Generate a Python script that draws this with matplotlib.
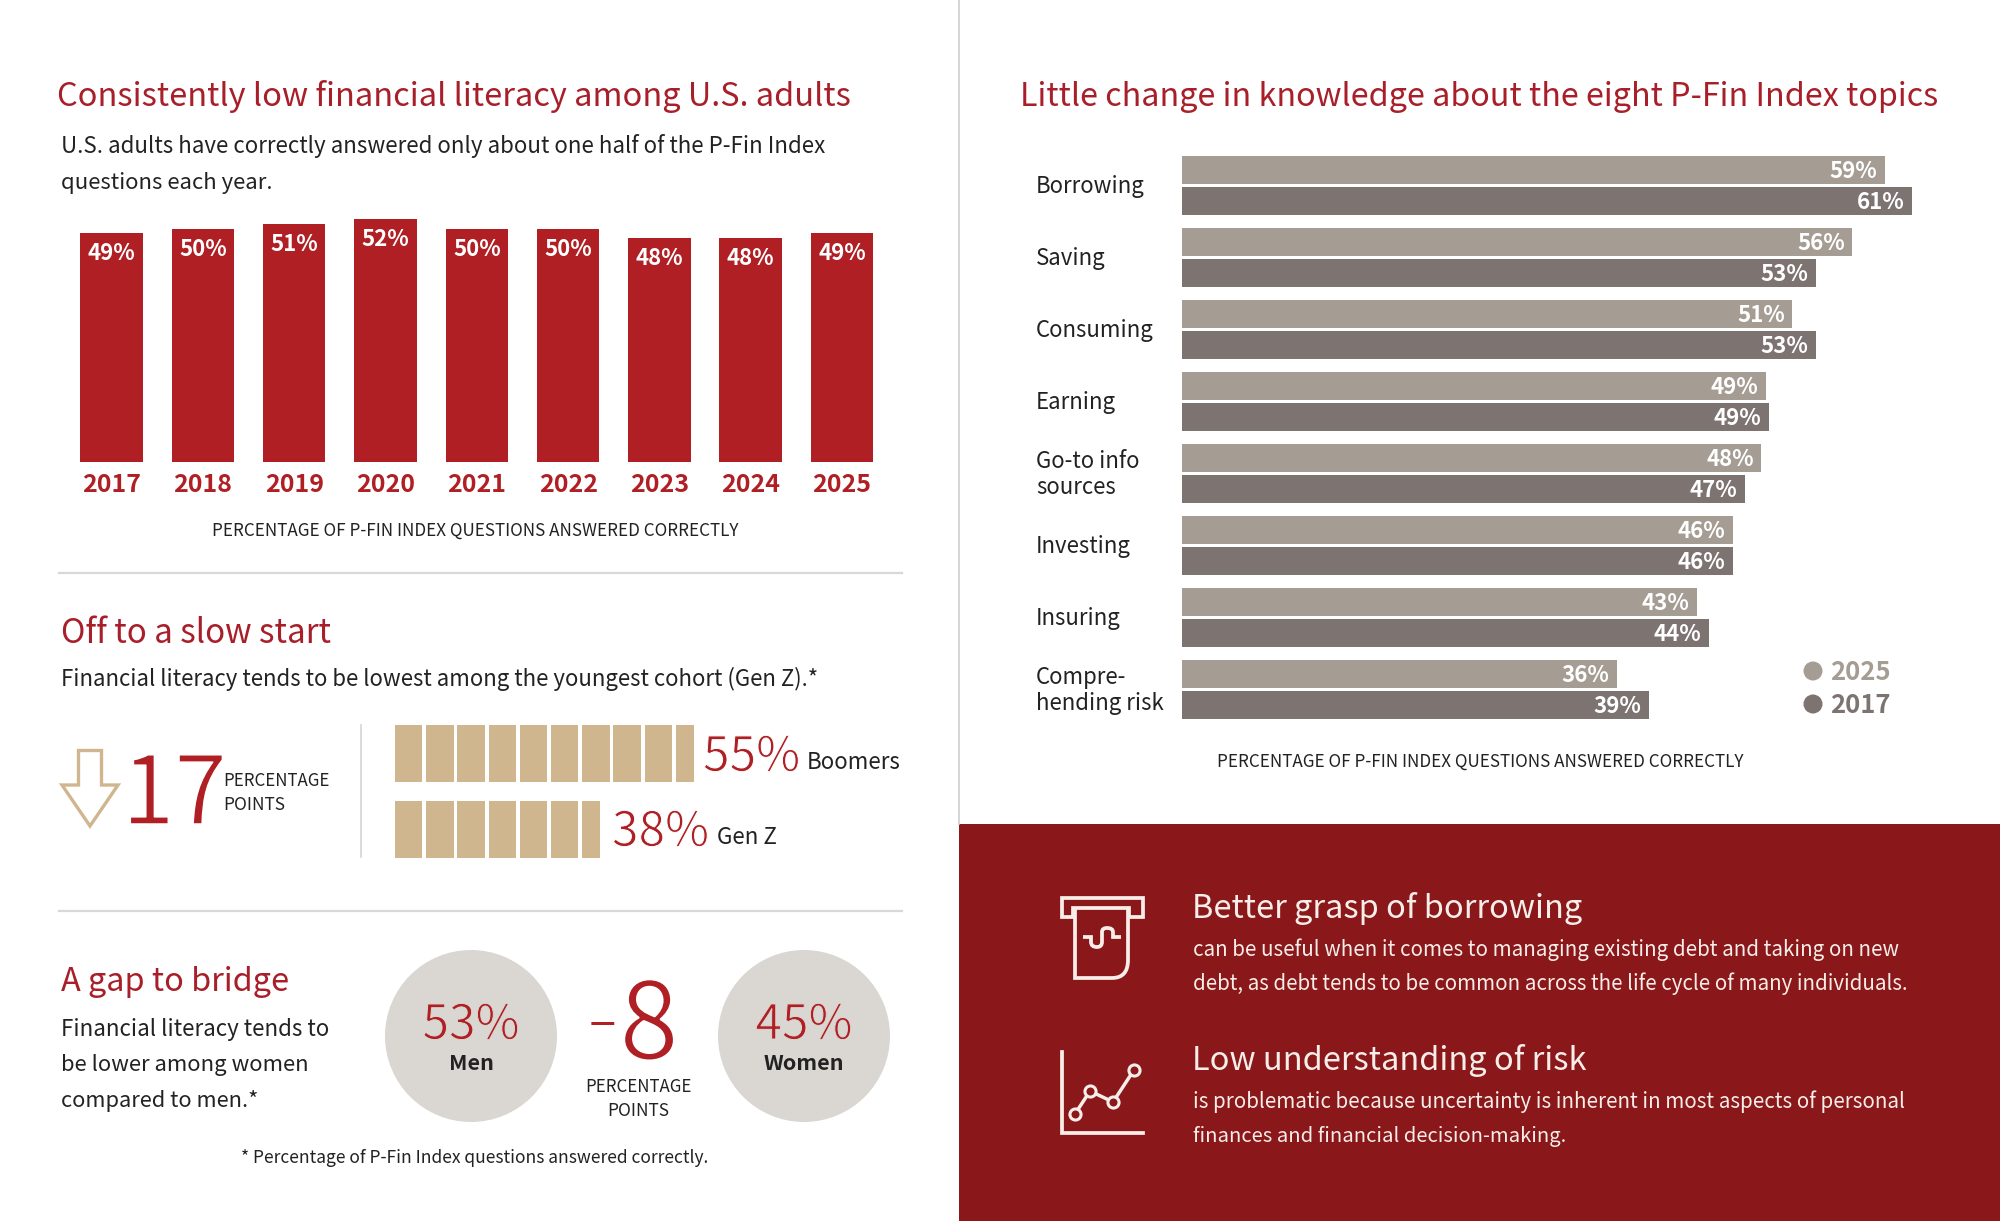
import matplotlib
matplotlib.use('Agg')
import matplotlib.pyplot as plt
import matplotlib.patheffects as pe
from matplotlib.patches import Circle, Polygon, Rectangle, PathPatch
from matplotlib.path import Path
from matplotlib.transforms import blended_transform_factory

W, H = 2000, 1221
plt.rcParams['font.family'] = ['Noto Sans CJK SC', 'DejaVu Sans']

# data
years = ['2017', '2018', '2019', '2020', '2021', '2022', '2023', '2024', '2025']
pct_correct = [49, 50, 51, 52, 50, 50, 48, 48, 49]

topics = ['Borrowing', 'Saving', 'Consuming', 'Earning', 'Go-to info\nsources',
          'Investing', 'Insuring', 'Compre-\nhending risk']
topic_2025 = [58.7, 56, 51, 48.8, 48.4, 46, 43, 36.3]
topic_2017 = [61, 53, 53, 49, 47, 46, 44, 39]

cohorts = ['Boomers', 'Gen Z']
cohort_pct = [55, 38]
cohort_blocks = [9.67, 6.67]

genders = ['Men', 'Women']
gender_pct = [53, 45]

RED = '#AF1F24'
TITLE = '#A81F2A'
DARK = '#8A1719'
TAN = '#D0B68E'
C2025 = '#A59D93'
C2017 = '#7D7472'
CIRCLE = '#DAD7D2'
INK = '#222222'
CREAM = '#F7EEEA'

fig = plt.figure(figsize=(W / 100, H / 100), dpi=100, facecolor='white')
bg = fig.add_axes([0, 0, 1, 1])
bg.set_xlim(0, W)
bg.set_ylim(H, 0)
bg.axis('off')
renderer = fig.canvas.get_renderer()


def px_axes(x0, y0, x1, y1):
    a = fig.add_axes([x0 / W, 1 - y1 / H, (x1 - x0) / W, (y1 - y0) / H])
    a.patch.set_alpha(0)
    for s in a.spines.values():
        s.set_visible(False)
    return a


def txt(x, y, s, size=16, color=INK, width=None, **kw):
    kw.setdefault('va', 'baseline')
    t = bg.text(x, y, s, fontsize=size, color=color, **kw)
    if width:
        # scale the font so the line has the same length as in the picture
        t.set_fontsize(size * width / t.get_window_extent(renderer).width)
    return t


def thin(t, lw, back='white'):
    # no light weight installed, so eat into the glyph edge with the background colour
    t.set_path_effects([pe.Stroke(linewidth=lw, foreground=back)])
    return t


# panel and rules
bg.add_patch(Rectangle((959, 824), W - 959, H - 824, color=DARK, lw=0))
bg.plot([959, 959], [0, 824], color='#CFCFCF', lw=1.2)
bg.plot([59, 902], [573, 573], color='#D8D8D5', lw=1.6)
bg.plot([59, 902], [911, 911], color='#D8D8D5', lw=1.6)
bg.plot([361, 361], [725, 857], color='#D8D8D5', lw=1.3)

# top left: years
txt(57, 106, 'Consistently low financial literacy among U.S. adults', 26, TITLE, width=795)
txt(61, 153, 'U.S. adults have correctly answered only about one half of the P-Fin Index', 17, width=764)
txt(61, 189, 'questions each year.', 17, width=212)

ax1 = px_axes(66, 200, 887.6, 462)
ax1.bar(range(len(years)), pct_correct, width=0.684, color=RED)
ax1.set_xlim(-0.5, len(years) - 0.5)
ax1.set_ylim(0, 262 / 4.67)
ax1.set_yticks([])
ax1.set_xticks(range(len(years)))
ax1.set_xticklabels(years, color=RED, fontweight='bold', fontsize=18)
ax1.tick_params(axis='x', length=0, pad=8)
for i, v in enumerate(pct_correct):
    ax1.annotate(f'{v}%', (i, v), xytext=(0, -6.5), textcoords='offset points', ha='center', va='top',
                 color='white', fontweight='bold', fontsize=16)
txt(475, 536, 'PERCENTAGE OF P-FIN INDEX QUESTIONS ANSWERED CORRECTLY', 12, ha='center', width=525)

# cohorts
txt(61, 643, 'Off to a slow start', 24, TITLE, width=270)
txt(61, 686, 'Financial literacy tends to be lowest among the youngest cohort (Gen Z).*', 17, width=758)

bg.add_patch(Polygon([(78.5, 750.5), (101.5, 750.5), (101.5, 785), (118, 785), (90, 826), (62, 785), (78.5, 785)],
                     closed=True, fill=False, ec=TAN, lw=2.4))
thin(txt(122, 824, '17', 68, RED), 1.1)
txt(223, 786, 'PERCENTAGE', 12.5, width=106)
txt(223, 810, 'POINTS', 12.5, width=62)

# one block per step, the last one cut short
ax2 = px_axes(395, 725, 707, 858)
ax2.set_xlim(0, 10)
ax2.set_ylim(133, 0)
ax2.set_xticks([])
ax2.set_yticks([])
for y, blocks in zip([28.5, 104], cohort_blocks):
    n = int(blocks)
    widths = [0.875] * n + [0.875 * (blocks - n)]
    ax2.barh([y] * (n + 1), widths, left=list(range(n + 1)), height=57, color=TAN)

thin(txt(703, 771, f'{cohort_pct[0]}%', 38, RED, width=97), 0.7)
txt(807, 769, cohorts[0], 17, width=94)
thin(txt(612, 846, f'{cohort_pct[1]}%', 38, RED, width=97), 0.7)
txt(717, 844, cohorts[1], 17, width=60)

# gender gap
txt(61, 991, 'A gap to bridge', 24, TITLE, width=229)
txt(61, 1036, 'Financial literacy tends to', 17, width=268)
txt(61, 1071, 'be lower among women', 17, width=248)
txt(61, 1107, 'compared to men.*', 17, width=198)

for cx, label, v in zip([471, 804], genders, gender_pct):
    bg.add_patch(Circle((cx, 1036), 86, color=CIRCLE, lw=0))
    thin(txt(cx, 1039, f'{v}%', 38, RED, ha='center', width=97), 0.7, CIRCLE)
    txt(cx, 1070, label, 15.5, fontweight='bold', ha='center')
txt(602, 1038, '\u2013', 37, RED, ha='center')
thin(txt(649, 1059, '8', 77, RED, ha='center'), 1.3)
txt(638, 1092, 'PERCENTAGE', 12.5, ha='center', width=106)
txt(638, 1116, 'POINTS', 12.5, ha='center', width=62)
txt(475, 1163, '* Percentage of P-Fin Index questions answered correctly.', 13, ha='center', width=468)

# right chart
txt(1020, 106, 'Little change in knowledge about the eight P-Fin Index topics', 26, TITLE, width=919)

ax3 = px_axes(1182, 149, 1982, 725)
ax3.set_xlim(0, 800 / 11.97)
ax3.set_ylim(len(topics) - 0.5, -0.5)
ax3.set_xticks([])
ax3.set_yticks([])
ypos = list(range(len(topics)))
ax3.barh([y - 15 / 72 for y in ypos], topic_2025, height=28 / 72, color=C2025)
ax3.barh([y + 16 / 72 for y in ypos], topic_2017, height=28 / 72, color=C2017)
for y, a, b in zip(ypos, topic_2025, topic_2017):
    ax3.annotate(f'{a:.0f}%', (a, y - 15 / 72), xytext=(-5.5, -1.2), textcoords='offset points', ha='right',
                 va='center', color='white', fontweight='bold', fontsize=16)
    ax3.annotate(f'{b:.0f}%', (b, y + 16 / 72), xytext=(-5.5, -1.2), textcoords='offset points', ha='right',
                 va='center', color='white', fontweight='bold', fontsize=16)
lab_tr = blended_transform_factory(bg.transData, ax3.transData)
for y, name in zip(ypos, topics):
    ax3.text(1036, y + 0.02, name, transform=lab_tr, color=INK, fontsize=16, va='center', linespacing=1.2)

bg.add_patch(Circle((1813, 671), 9.5, color=C2025, lw=0))
bg.add_patch(Circle((1813, 704), 9.5, color=C2017, lw=0))
txt(1830, 680, '2025', 18.5, C2025, fontweight='bold')
txt(1830, 713, '2017', 18.5, C2017, fontweight='bold')
txt(1480, 767, 'PERCENTAGE OF P-FIN INDEX QUESTIONS ANSWERED CORRECTLY', 12, ha='center', width=525)

# red panel text
txt(1192, 918, 'Better grasp of borrowing', 24, CREAM, width=391)
txt(1193, 956, 'can be useful when it comes to managing existing debt and taking on new', 15.5, CREAM, width=705)
txt(1193, 990, 'debt, as debt tends to be common across the life cycle of many individuals.', 15.5, CREAM, width=715)
txt(1192, 1070, 'Low understanding of risk', 24, CREAM, width=395)
txt(1193, 1108, 'is problematic because uncertainty is inherent in most aspects of personal', 15.5, CREAM, width=711)
txt(1193, 1142, 'finances and financial decision-making.', 15.5, CREAM, width=372)

# icons
ICON = dict(fill=False, ec=CREAM, lw=2.7)
bg.add_patch(Polygon([(1062, 898), (1143, 898), (1143, 917), (1129, 917), (1129, 908), (1073, 908),
                      (1073, 917), (1062, 917)], closed=True, **ICON))
note = Path([(1075, 908), (1075, 978), (1112, 978), (1128, 978), (1128, 960), (1128, 908)],
            [Path.MOVETO, Path.LINETO, Path.LINETO, Path.CURVE3, Path.CURVE3, Path.LINETO])
bg.add_patch(PathPatch(note, **ICON))
dollar = Path([(1083, 937), (1091, 937), (1091, 942), (1091, 947), (1097, 947), (1102, 947), (1102, 942),
               (1102, 932), (1102, 928), (1107, 928), (1113, 928), (1113, 932), (1113, 937), (1121, 937)],
              [Path.MOVETO, Path.LINETO, Path.LINETO, Path.CURVE3, Path.CURVE3, Path.CURVE3, Path.CURVE3,
               Path.LINETO, Path.CURVE3, Path.CURVE3, Path.CURVE3, Path.CURVE3, Path.LINETO, Path.LINETO])
bg.add_patch(PathPatch(dollar, **ICON))
bg.plot([1062, 1062, 1143], [1052, 1133, 1133], color=CREAM, lw=2.7, solid_joinstyle='miter')
bg.plot([1075, 1090, 1113, 1134], [1114, 1091, 1102, 1070], color=CREAM, lw=2.5, marker='o', ms=8,
        mfc=DARK, mec=CREAM, mew=2.2)

fig.savefig('out.png', dpi=100)
